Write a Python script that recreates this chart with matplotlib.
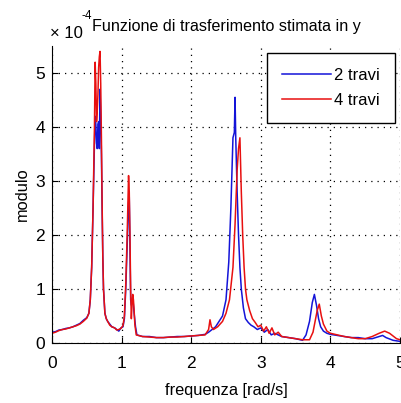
import matplotlib
matplotlib.use("Agg")
import matplotlib.pyplot as plt

plt.rcParams['font.family'] = ['Liberation Sans Narrow', 'Liberation Sans', 'DejaVu Sans']

# values in units of 1e-4
freq_2 = [0.00, 0.05, 0.10, 0.15, 0.20, 0.25, 0.30, 0.35, 0.40, 0.45, 0.50, 0.53, 0.55, 0.57, 0.59,
          0.61, 0.62, 0.63, 0.64, 0.65, 0.66, 0.67, 0.68, 0.69, 0.70, 0.71, 0.72, 0.73, 0.74, 0.76,
          0.78, 0.80, 0.83, 0.86, 0.90, 0.93, 0.96, 0.99, 1.02, 1.04, 1.06, 1.08, 1.10, 1.11, 1.12,
          1.13, 1.14, 1.16, 1.18, 1.20, 1.22, 1.30, 1.40, 1.50, 1.60, 1.70, 1.80, 1.90, 2.00, 2.10,
          2.20, 2.25, 2.30, 2.35, 2.40, 2.45, 2.50, 2.54, 2.57, 2.60, 2.62, 2.63, 2.64, 2.66, 2.68,
          2.70, 2.72, 2.75, 2.78, 2.82, 2.86, 2.90, 2.95, 3.00, 3.05, 3.10, 3.15, 3.20, 3.30, 3.40,
          3.50, 3.60, 3.65, 3.70, 3.74, 3.77, 3.80, 3.83, 3.86, 3.90, 3.95, 4.00, 4.10, 4.20, 4.30,
          4.40, 4.50, 4.60, 4.70, 4.75, 4.80, 4.90, 5.00]
mod_2 = [0.20, 0.21, 0.24, 0.25, 0.27, 0.28, 0.30, 0.33, 0.36, 0.42, 0.47, 0.55, 0.80, 1.40, 2.50,
         3.70, 4.20, 4.05, 3.70, 3.60, 4.05, 4.10, 3.60, 4.70, 4.20, 3.50, 2.50, 1.60, 1.00, 0.55,
         0.45, 0.40, 0.35, 0.30, 0.28, 0.25, 0.22, 0.28, 0.30, 0.45, 1.00, 1.80, 2.60, 2.70, 1.80,
         0.80, 0.70, 0.85, 0.55, 0.30, 0.15, 0.12, 0.12, 0.10, 0.10, 0.11, 0.12, 0.12, 0.13, 0.14,
         0.16, 0.20, 0.25, 0.30, 0.40, 0.50, 0.80, 1.50, 2.50, 3.80, 3.90, 4.55, 3.80, 2.80, 2.00,
         1.40, 1.00, 0.65, 0.45, 0.38, 0.33, 0.30, 0.25, 0.28, 0.20, 0.25, 0.15, 0.18, 0.12, 0.10,
         0.08, 0.05, 0.15, 0.40, 0.75, 0.90, 0.70, 0.45, 0.30, 0.22, 0.18, 0.16, 0.14, 0.12, 0.10,
         0.10, 0.08, 0.08, 0.12, 0.14, 0.10, 0.05, 0.03]

freq_4 = [0.00, 0.05, 0.10, 0.15, 0.20, 0.25, 0.30, 0.35, 0.40, 0.45, 0.50, 0.53, 0.55, 0.57, 0.59,
          0.61, 0.62, 0.63, 0.64, 0.65, 0.66, 0.67, 0.68, 0.69, 0.70, 0.71, 0.72, 0.73, 0.74, 0.76,
          0.78, 0.80, 0.83, 0.86, 0.90, 0.93, 0.96, 0.99, 1.02, 1.04, 1.06, 1.08, 1.10, 1.11, 1.12,
          1.13, 1.14, 1.15, 1.16, 1.17, 1.18, 1.19, 1.21, 1.30, 1.40, 1.50, 1.60, 1.70, 1.80, 1.90,
          2.00, 2.10, 2.20, 2.25, 2.27, 2.29, 2.32, 2.38, 2.45, 2.50, 2.55, 2.60, 2.63, 2.66, 2.68,
          2.70, 2.71, 2.72, 2.74, 2.76, 2.78, 2.80, 2.84, 2.88, 2.92, 2.96, 3.00, 3.04, 3.08, 3.12,
          3.16, 3.20, 3.25, 3.30, 3.40, 3.50, 3.60, 3.70, 3.75, 3.78, 3.81, 3.84, 3.87, 3.90, 3.95,
          4.00, 4.10, 4.20, 4.30, 4.40, 4.50, 4.60, 4.70, 4.78, 4.85, 4.95, 5.00]
mod_4 = [0.18, 0.20, 0.23, 0.25, 0.26, 0.28, 0.30, 0.32, 0.35, 0.40, 0.46, 0.55, 0.80, 1.40, 2.50,
         4.00, 5.20, 4.80, 4.10, 4.30, 4.60, 5.10, 5.30, 5.40, 4.80, 3.80, 2.60, 1.60, 1.00, 0.55,
         0.45, 0.40, 0.33, 0.30, 0.28, 0.24, 0.25, 0.27, 0.32, 0.50, 1.10, 2.00, 3.10, 2.80, 2.00,
         1.00, 0.45, 0.70, 0.90, 0.80, 0.60, 0.35, 0.15, 0.12, 0.11, 0.10, 0.10, 0.11, 0.11, 0.12,
         0.13, 0.14, 0.15, 0.25, 0.43, 0.30, 0.25, 0.30, 0.40, 0.55, 0.80, 1.40, 2.20, 3.20, 3.60,
         3.80, 3.30, 2.80, 2.00, 1.40, 1.00, 0.80, 0.60, 0.45, 0.38, 0.30, 0.33, 0.22, 0.30, 0.18,
         0.28, 0.15, 0.20, 0.12, 0.10, 0.08, 0.06, 0.06, 0.20, 0.40, 0.60, 0.72, 0.50, 0.35, 0.22,
         0.18, 0.15, 0.12, 0.10, 0.08, 0.08, 0.12, 0.18, 0.22, 0.18, 0.08, 0.06]

xticks = [0, 1, 2, 3, 4, 5]
yticks = [0, 1, 2, 3, 4, 5]

fig = plt.figure(figsize=(4.01, 4.03), dpi=100)
ax = fig.add_axes([52/401, 60/403, 348/401, 297/403])

ax.plot(freq_2, mod_2, color='#1414d8', lw=1.1, label='2 travi')
ax.plot(freq_4, mod_4, color='#e81010', lw=1.1, label='4 travi')

ax.set_xlim(0, 5)
ax.set_ylim(0, 5.5)
ax.set_xticks(xticks)
ax.set_yticks(yticks)
ax.tick_params(direction='in', length=4, labelsize=12.5, colors='black', pad=5)
ax.tick_params(axis='x', pad=9)
ax.grid(True, color='black', linestyle=(0, (1, 4)), linewidth=0.9)
ax.spines['top'].set_visible(False)
ax.spines['right'].set_visible(False)

ax.set_title('Funzione di trasferimento stimata in y', fontsize=11.6, pad=11)
ax.set_xlabel('frequenza [rad/s]', fontsize=11.8, labelpad=9)
ax.set_ylabel('modulo', fontsize=11.8)
fig.text(50/401, 1 - 33/403, '\u00d7 10', fontsize=12, ha='left', va='center')
fig.text(81/401, 1 - 16/403, '-4', fontsize=8.5, ha='left', va='center')

leg = ax.legend(loc='upper right', bbox_to_anchor=(0.985, 0.976), fontsize=12,
                handlelength=2.9, handletextpad=0.2, fancybox=False, framealpha=1,
                edgecolor='black', borderpad=0.9, labelspacing=0.6, borderaxespad=0)
leg.get_frame().set_linewidth(1)

fig.savefig('out.png', dpi=100)
